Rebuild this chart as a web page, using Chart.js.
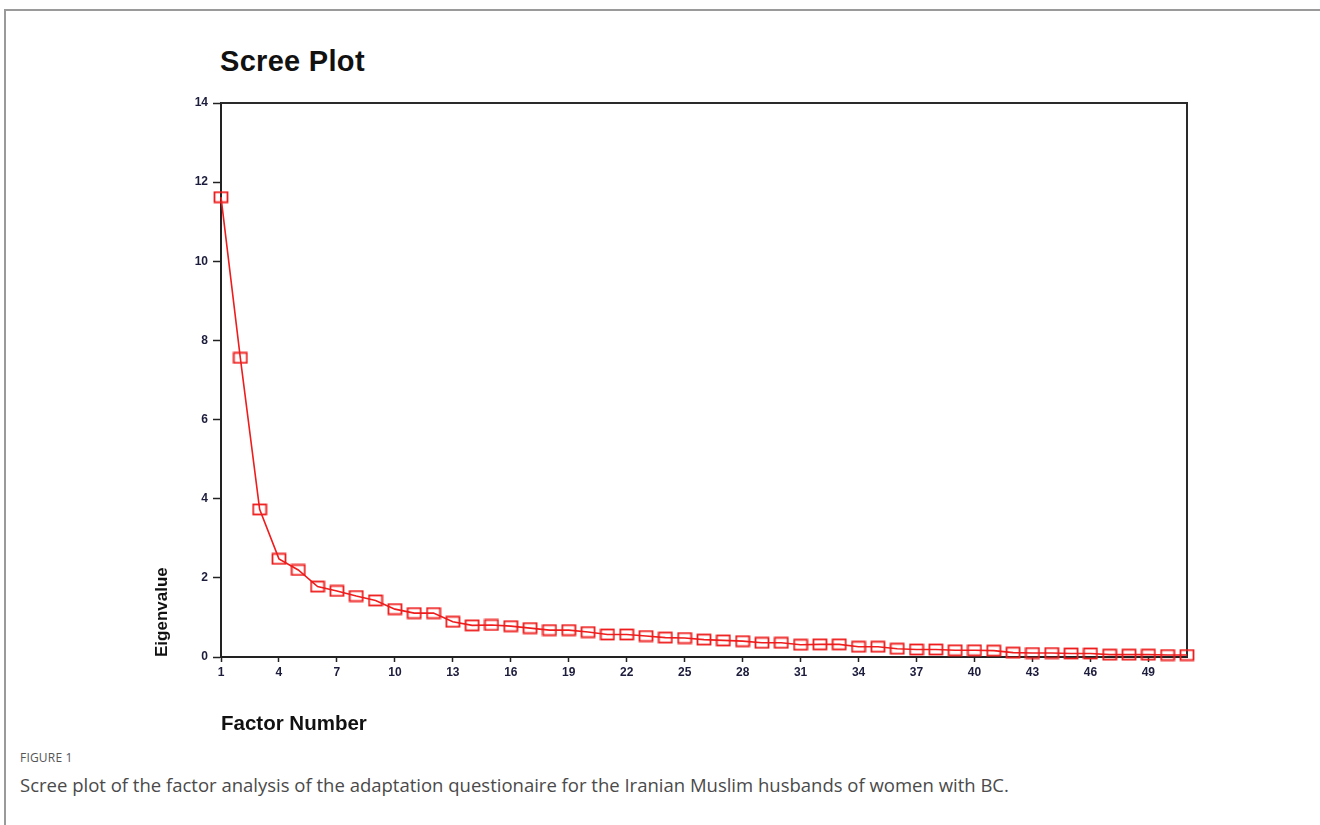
<!DOCTYPE html>
<html>
<head>
<meta charset="utf-8">
<script src="https://cdn.jsdelivr.net/npm/chart.js@4.4.1/dist/chart.umd.min.js"></script>
<style>
  html, body { margin: 0; padding: 0; background: #fff; }
  body { width: 1320px; height: 825px; position: relative; overflow: hidden; }
  .frame { position: absolute; left: 4px; top: 9px; width: 1400px; height: 900px; border: 2px solid #9a9a9a; box-sizing: border-box; }
  .plot-title { position: absolute; left: 220px; top: 45px; font: bold 29px "Liberation Sans", Arial, sans-serif; color: #111; letter-spacing: 0.3px; }
  .chart-wrap { position: absolute; left: 140px; top: 90px; width: 1100px; height: 660px; }
  .fig-label { position: absolute; left: 20px; top: 749px; font: 12px "Open Sans", sans-serif; color: #555; letter-spacing: 0.2px; }
  .fig-caption { position: absolute; left: 20px; top: 772px; font: 18.5px "Open Sans", sans-serif; color: #4a4a4a; letter-spacing: 0; }
</style>
</head>
<body>
<div class="frame"></div>
<div class="plot-title">Scree Plot</div>
<div class="chart-wrap"><canvas id="scree"></canvas></div>
<div class="fig-label">FIGURE 1</div>
<div class="fig-caption">Scree plot of the factor analysis of the adaptation questionaire for the Iranian Muslim husbands of women with BC.</div>

<script>
// ── Data ──────────────────────────────────────────────────────────────
const factors = [1, 2, 3, 4, 5, 6, 7, 8, 9, 10, 11, 12, 13, 14, 15, 16, 17, 18, 19, 20,
                 21, 22, 23, 24, 25, 26, 27, 28, 29, 30, 31, 32, 33, 34, 35, 36, 37, 38, 39, 40,
                 41, 42, 43, 44, 45, 46, 47, 48, 49, 50, 51];
const eigenvalues = [11.62, 7.56, 3.73, 2.48, 2.20, 1.78, 1.67, 1.54, 1.43, 1.21,
                     1.11, 1.11, 0.89, 0.80, 0.81, 0.78, 0.73, 0.68, 0.68, 0.63,
                     0.57, 0.57, 0.53, 0.49, 0.48, 0.44, 0.42, 0.40, 0.36, 0.36,
                     0.31, 0.32, 0.32, 0.26, 0.26, 0.21, 0.19, 0.19, 0.17, 0.17,
                     0.16, 0.11, 0.10, 0.10, 0.09, 0.09, 0.06, 0.06, 0.06, 0.05, 0.05];
const xTicks = [1, 4, 7, 10, 13, 16, 19, 22, 25, 28, 31, 34, 37, 40, 43, 46, 49];
const yTicks = [0, 2, 4, 6, 8, 10, 12, 14];

const red = '#ee1c1c';
const ink = '#1c1c3c';

// open square marker, a bit wider than tall like the SPSS export
const marker = document.createElement('canvas');
marker.width = 16; marker.height = 13;
(() => {
  const c = marker.getContext('2d');
  c.strokeStyle = red; c.lineWidth = 1.8;
  c.strokeRect(1.5, 1.5, 13, 10);
})();

// box round the plot area (top + right sides)
const plotFrame = {
  id: 'plotFrame',
  beforeDatasetsDraw(chart) {
    const { ctx, chartArea: a } = chart;
    ctx.save();
    ctx.strokeStyle = '#2a2a2a';
    ctx.lineWidth = 2;
    ctx.beginPath();
    ctx.moveTo(a.left, a.top);
    ctx.lineTo(a.right, a.top);
    ctx.lineTo(a.right, a.bottom);
    ctx.stroke();
    ctx.restore();
  }
};

const tickFont = { family: '"Liberation Sans", Arial, sans-serif', size: 12, weight: 'bold' };

new Chart(document.getElementById('scree'), {
  type: 'line',
  data: {
    datasets: [{
      label: 'Eigenvalue',
      data: factors.map((f, i) => ({ x: f, y: eigenvalues[i] })),
      borderColor: red,
      borderWidth: 1.6,
      pointStyle: marker,
      pointRadius: 7,
      tension: 0,
      clip: false,
    }]
  },
  options: {
    responsive: true, maintainAspectRatio: false, animation: false,
    layout: { padding: { top: 13, right: 53, left: 0, bottom: 0 } },
    plugins: { legend: { display: false }, tooltip: { enabled: false } },
    scales: {
      x: {
        type: 'linear', min: 1, max: 51,
        afterBuildTicks: s => { s.ticks = xTicks.map(v => ({ value: v })); },
        afterFit: s => { s.height = 93; },
        grid: { display: true, drawOnChartArea: false, tickLength: 5, tickColor: '#222', tickWidth: 1.5 },
        border: { display: true, color: '#222', width: 2 },
        ticks: { font: tickFont, color: ink, padding: 3, maxRotation: 0, autoSkip: false },
        title: { display: true, text: 'Factor Number', align: 'start', color: '#111',
                 font: { family: '"Liberation Sans", Arial, sans-serif', size: 20.5, weight: 'bold' },
                 padding: { top: 0, bottom: 13 } }
      },
      y: {
        min: 0, max: 14,
        afterBuildTicks: s => { s.ticks = yTicks.map(v => ({ value: v })); },
        afterFit: s => { s.width = 81; },
        grid: { display: true, drawOnChartArea: false, tickLength: 8, tickColor: '#222', tickWidth: 1.5 },
        border: { display: true, color: '#222', width: 2 },
        ticks: { font: tickFont, color: ink, padding: 5 },
        title: { display: true, text: 'Eigenvalue', align: 'start', color: '#111',
                 font: { family: '"Liberation Sans", Arial, sans-serif', size: 17, weight: 'bold' },
                 padding: { top: 12, bottom: 0 } }
      }
    }
  },
  plugins: [plotFrame]
});
</script>
</body>
</html>
